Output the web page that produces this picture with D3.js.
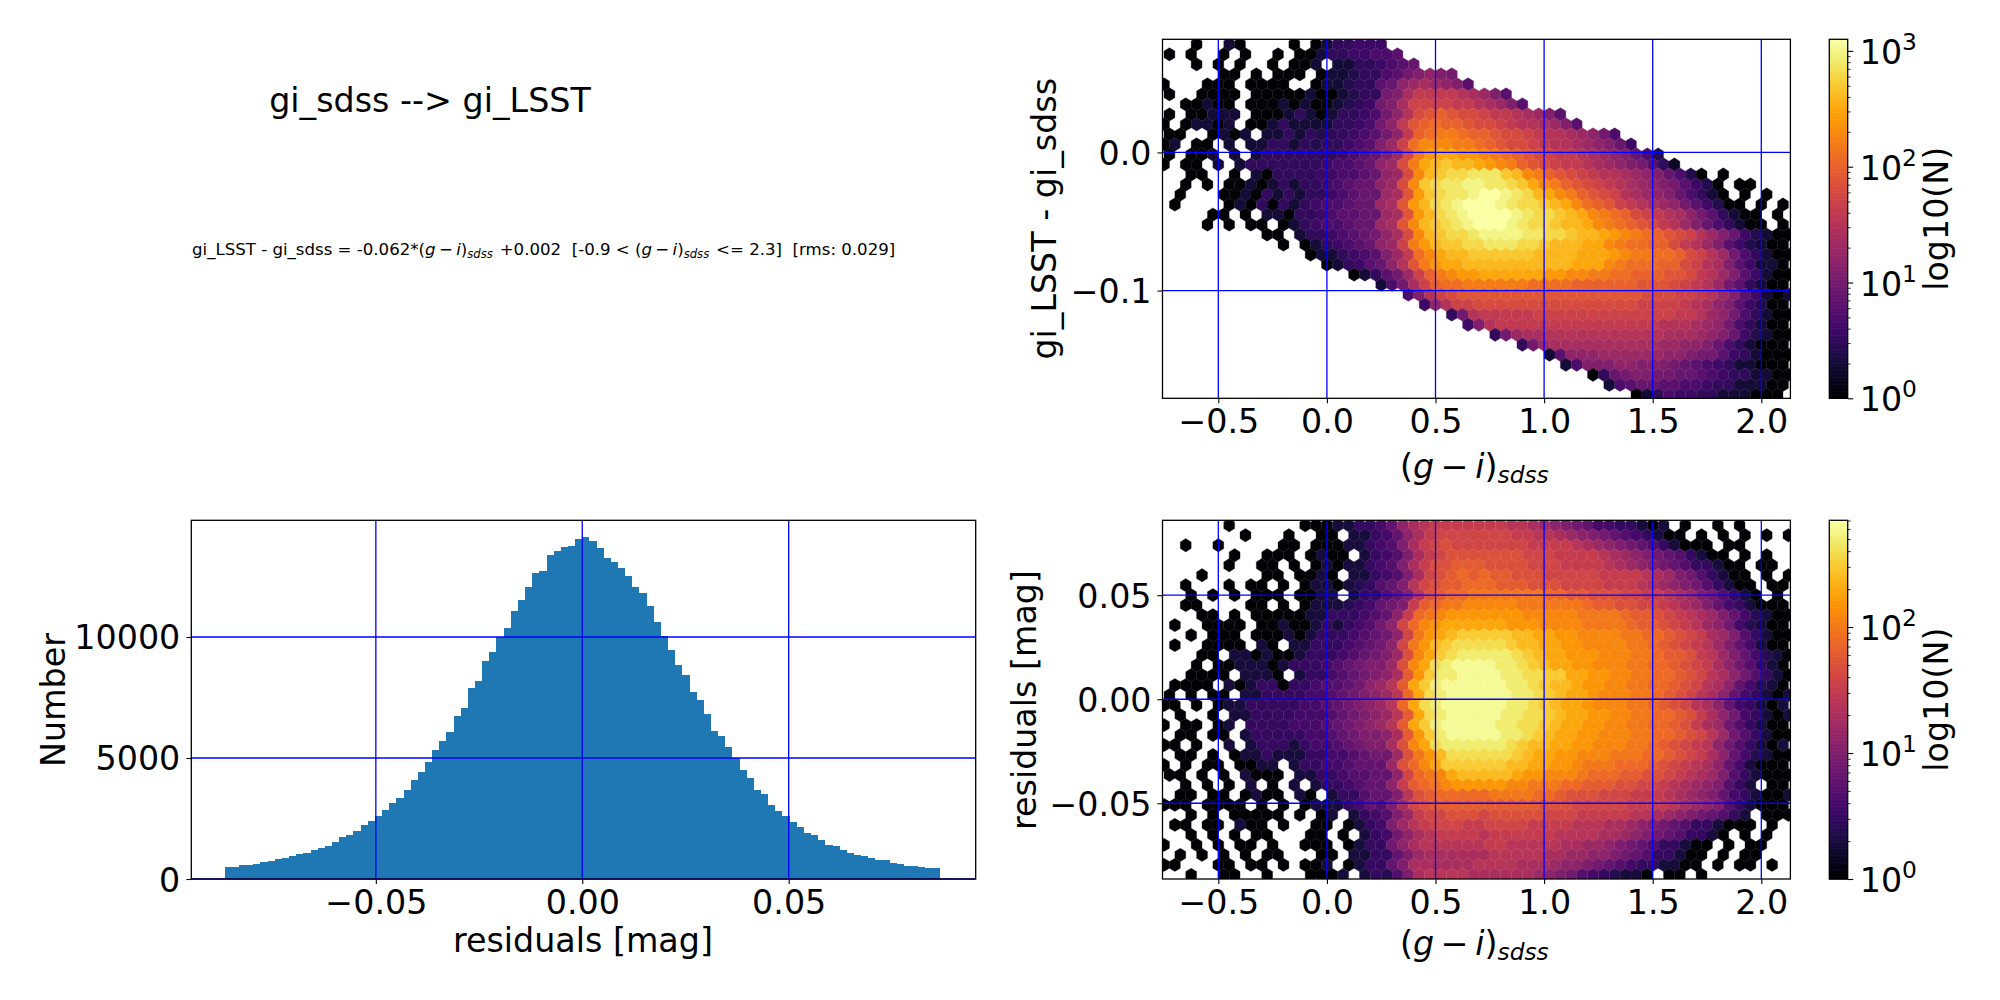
<!DOCTYPE html>
<html>
<head>
<meta charset="utf-8">
<script src="https://cdn.jsdelivr.net/npm/d3@7"></script>
<style>
  html, body { margin: 0; padding: 0; background: #fff; }
  text { font-family: "DejaVu Sans", sans-serif; fill: #000; white-space: pre; }
  .domain { display: none; }
</style>
</head>
<body>
<svg id="fig" width="2000" height="1000"></svg>
<script>
// residual histogram, 100 bins
var histStart = -0.0866, histWidth = 0.001732;
var histCounts = [
  496,496,578,578,620,702,744,826,868,950,
  1033,1074,1198,1281,1363,1528,1735,1818,1983,2231,
  2396,2603,2850,3140,3346,3677,4090,4420,4833,5329,
  5701,6073,6734,7064,7890,8180,9006,9377,9983,10369,
  11071,11525,12063,12641,12723,13384,13550,13715,13756,14045,
  14128,13963,13674,13261,13095,12847,12517,12063,11815,11278,
  10617,10038,9460,8840,8427,7725,7395,6816,6114,5907,
  5453,4985,4503,4172,3677,3511,3057,2809,2603,2355,
  2148,1900,1818,1611,1405,1363,1198,1074,991,950,
  868,785,785,661,620,537,537,496,454,454
];

// hexbin tables: one char per cell, base 32, log10(N) in tenths, "." = empty
var hexStartX = -0.75, hexStepX = 0.05;

var colourRows = [
  "...0..30.. ..0.035566 6",
  "0.0..0.0.. 0.00355667 78",
  "...0.0.0.. 0.003.3355 6789",
  ".....00.0. 000.033455 78abcba",
  "0...000.00 00..033455 89cdedcb8",
  "0..0000.00 0003003455 abeggggfedb8",
  "..00300.00 0303003456 abehhhhggfedb8",
  "0.00333.00 0353035567 acfijkjiihggfedb8",
  "0.03303.00 3533335567 acgjklkkjiihgffedb8",
  "00..0303.3 3535455678 acgklmmlkkjiihgffedca7",
  "03.00.3.33 5535455678 bdhlnnnmmlkjiihgffedcb96",
  "0.003.3.35 5555556789 bdimoppoonmlkjihggfedcb974",
  "0.00.3.355 5555567789 cdimpqrqqponmkjihggfedcba852",
  "..00..0.30 5555667789 cdinqrsstttrqnmkjihgffedcb9740.0",
  "..0.0.0030 3535567899 cdinrsttuuttsrpnmkjihgfedcba8640.00",
  ".0...00305 3535567899 dejorsttuvvutsqpnmkjihfedcb97530.0.0",
  ".0....0305 0535677899 dejoqstuvvvutssrqpnlkjhgfedca86400.0.0",
  "....00.0.3 3055678899 dejoqstuvvvvutssrqpnmlkihgfeca85300.0",
  "....0.0.00 .035677899 dejnqrstuvvvutssrqqpnmlkjigfdb975300.0",
  ".........0 0.3556789a ceinqrsstuuuuttssrqqponmlkjihfdb9643000",
  ".......... .0.0356789 cdhmoqrrsstttssrqqqppnmllkkigfdb864300",
  ".......... ...0335678 bdglnpqqrrrrrrqqqqpppon mmllkihfda75300",
  ".......... .....03568 9cfjmoppqq qqqqqqqqpp pnmlllkkih feb86330",
  ".......... .......035 8adhkmnoop pppppoonnm mllkkkjjig fdb86300",
  ".......... .......... 37aehkllmm mmmmllllkk kkkkjjjihg fda85300",
  ".......... .......... ..7bfhijjj jjjjjjjjjj jjjjiiihhg fdb86303",
  ".......... .......... ....6cfhhi iiiiiiiiii iiiihhhhgf ecb86400",
  ".......... .......... ......5afg gggghhhhhh hhhhhhhggf dca75300",
  ".......... .......... ........6b fggggggggg ggggggfffe dca75300",
  ".......... .......... .......... 5adeefffff ffffffeeed cb964300",
  ".......... .......... .......... ...5adeeee eeeeeeddcc b9753000",
  ".......... .......... .......... .....38ccc ddddddccba a8653000",
  ".......... .......... .......... .......37b bbccbbba98 76533000",
  ".......... .......... .......... .........0 59abbaa998 76553300",
  ".......... .......... .......... .......... .378998877 65533300",
  ".......... .......... .......... .......... ...0357665 5333000."
];

var residualRows = [
  "......0... ...0003355 68bdefffff ffeedcba98 6655303.0. .0.0....",
  ".......0.. .0..00.335 68bdfggggg ggffeedcba 98765300.0 .0.0.0.0",
  "..0..0.... .00.000335 67adfghggg ggggffffed cba9875300 0.00....",
  "......0..0 00.0300.35 67adfghhhh hhhgggffff edcba98753 00.0.0..",
  "......0..0 0.0.030335 67adfhhiii hhhhgggfff fedcba9875 5300.00.",
  "...0.....0 0.0030.335 67adghijij iihhhggggg ffffedca97 5300.0.0",
  "..0...0.00 .0.0330345 78aeghiijj jiiihhhggg gfffedcba9 75300.00",
  "..0.0.0.00 0.0033.355 78aehijjkk kkkkkjjiih hhggffedca 97530.0.",
  "..00....00 .0.0333456 89afijkkll lllkkkkkkj iihhggfedc a8653000",
  "...00.0.00 0003355567 8bfjklmmmm mmmlllllkk kkjiihgfed ca864300",
  ".0..0000.0 0300353567 9bgjlmnnnn nnmmmllllk kkkjiihgfe cb964300",
  "..0.000.00 0303555678 9bgkmnoppp ppoonnmmll llkkjjihgf dca75300",
  ".0..0000.3 0.33555678 9bgkmopqqq qqpoonnmml lllkkjihgf eca86300",
  "...00.3303 0035556789 achlnpqrrr rrqponnmmm lllkkjiihf eca86430",
  "...0.00333 035556789a achlnqrsss srrqponnmm lllkkjjihg fdb97530",
  "..0000.333 0.3556789a bdimprrsss srrqqppnnm mllkkjjihg edb97530",
  ".0000.3035 505567789b ceinprssss ssrrqpoonm mllkkjjihg edb86430",
  "0.0.00.335 55566789ab cejnqrssss ssrrqponnm lllkkjihge db865303",
  "00.0.03355 55566789ab cejnqrssss ssrrqponnm lllkkjihge db865303",
  ".0..0.3355 55666789ab ceinqrssss srrqqponnm mllkkjjihf db965303",
  "0.00.03.55 556667 89ab ceinprssss srrqqponnm mllkkjjihf dc975300",
  ".00.00.355 5556678 9aa bdimprssss srrqponnmm lllkkjjihg ec975300",
  "00.0..3.35 5535667 89a adhlnqrrrr rrqpoonnmm lllkkjihgf eb975303",
  ".00.0.0335 3335566789 9chkmoqqqq qqponnmmll lkkkjjihgf db864300",
  "0.0.00.003 3.35566788 8chjlnpppp ppoonnmmlk kkjjjihgfe db863000",
  "00.0.0.300 0.33556778 8bgjklnooo oonmmlllkj jjiihhgfed ca753000",
  "..0.0.0.3. 0.3.355678 8bfijklmmm mmllkkkjji iihhggfedc ba753.00",
  ".00.00.030 0.30.35578 8aehijjjjj kkkkjjihhh gggfffedcb a8653003",
  "000.0000.0 .0.0333568 7adghiiiii iiiiihhhgg gggffffedc ba753000",
  "..0.0.0000 0.0.03.356 7acfgghhhg hhhhhgggff fffeedcba9 8753.000",
  ".00.00.300 .0..00.035 6acefgggff ggggffffee eddcba9875 53000.0.",
  "..0.0.0.00 ...00.0.35 69bdeffffe ffffffeeee ddcba98755 30.0.0..",
  "0..0.0.00. 0..000.035 59bdeeeeee ffeeeeeddc cba9875530 0.0.00..",
  ".0.0.0.0.0 0...00.335 58acdddddd eeeeeddccb ba98755300 .0.00...",
  "00...00.00 .0.003.035 58adddddde eeedddcbba 9876553300 .0.00.0.",
  "..0..00..0 ...0003.35 47adeeeedd ddddcba976 54330.00.0 ........"
];

// axis ticks
var colourTicks = [-0.5, 0, 0.5, 1, 1.5, 2];
var topYTicks = [0, -0.1];
var residYTicks = [0.05, 0, -0.05];
var histXTicks = [-0.05, 0, 0.05];
var histYTicks = [0, 5000, 10000];

var title = "gi_sdss --> gi_LSST";
var fontPx = 33.3;
var svg = d3.select("#fig");
var uid = 0;

function minusFmt(digits) {
  return function (d) { return d3.format("." + digits + "f")(d).replace("-", "\u2212"); };
}

// writes (g - i)_sdss as tspans
function colourTerm(t) {
  t.append("tspan").text("(");
  t.append("tspan").attr("font-style", "italic").text("g");
  t.append("tspan").text("\u2009\u2212\u2009");
  t.append("tspan").attr("font-style", "italic").text("i");
  t.append("tspan").text(")");
  t.append("tspan").attr("font-style", "italic").attr("font-size", "0.7em").attr("dy", "0.22em").text("sdss");
  t.append("tspan").attr("dy", "-0.154em").text("\u200a");
}

// frame with blue grid, shared by the three axes
function makeAxes(o) {
  var x = d3.scaleLinear().domain(o.xDomain).range([o.left, o.right]);
  var y = d3.scaleLinear().domain(o.yDomain).range([o.bottom, o.top]);
  var id = "clip" + (uid++);
  svg.append("clipPath").attr("id", id).append("rect")
    .attr("x", o.left).attr("y", o.top).attr("width", o.right - o.left).attr("height", o.bottom - o.top);
  var g = svg.append("g");
  var marks = g.append("g").attr("clip-path", "url(#" + id + ")");
  return { x: x, y: y, g: g, marks: marks, o: o };
}

function finishAxes(a) {
  var o = a.o, g = a.g;
  var grid = g.append("g").attr("stroke", "#0000ff").attr("stroke-width", 1.3);
  grid.selectAll(".vx").data(o.xTicks).enter().append("line")
    .attr("x1", a.x).attr("x2", a.x).attr("y1", o.top).attr("y2", o.bottom);
  grid.selectAll(".hz").data(o.yTicks).enter().append("line")
    .attr("y1", a.y).attr("y2", a.y).attr("x1", o.left).attr("x2", o.right);

  g.append("rect").attr("x", o.left).attr("y", o.top)
    .attr("width", o.right - o.left).attr("height", o.bottom - o.top)
    .attr("fill", "none").attr("stroke", "#000").attr("stroke-width", 1.3);

  var xa = g.append("g").attr("transform", "translate(0," + o.bottom + ")")
    .call(d3.axisBottom(a.x).tickValues(o.xTicks).tickSize(5).tickFormat(o.xFmt));
  xa.selectAll("text").attr("font-size", fontPx).attr("y", 35).attr("dy", 0)
    .style("font-family", "'DejaVu Sans'");
  xa.selectAll("line").attr("stroke-width", 1.1);

  var ya = g.append("g").attr("transform", "translate(" + o.left + ",0)")
    .call(d3.axisLeft(a.y).tickValues(o.yTicks).tickSize(5).tickFormat(o.yFmt));
  ya.selectAll("text").attr("font-size", fontPx).attr("x", -11).attr("dy", "0.36em")
    .style("font-family", "'DejaVu Sans'");
  ya.selectAll("line").attr("stroke-width", 1.1);
}

function hexPath(a, cx, cy, sx, sy) {
  var hw = sx / 2, tip = sy * 2 / 3, side = sy / 3;
  var pts = [[cx, cy + tip], [cx + hw, cy + side], [cx + hw, cy - side], [cx, cy - tip], [cx - hw, cy - side], [cx - hw, cy + side]];
  return "M" + pts.map(function (p) { return a.x(p[0]) + "," + a.y(p[1]); }).join("L") + "Z";
}

function drawHex(a, rows, stepY, maxN) {
  var colour = d3.scaleSequentialLog(d3.interpolateInferno).domain([1, maxN]);
  var cells = [];
  rows.forEach(function (row, r) {
    row.replace(/ /g, "").split("").forEach(function (ch, c) {
      if (ch === ".") return;
      cells.push({
        x: hexStartX + (c + (r % 2) / 2) * hexStepX,
        y: a.o.yDomain[1] - (r + 0.5) * stepY,
        n: Math.pow(10, parseInt(ch, 32) / 10)
      });
    });
  });
  a.marks.selectAll("path").data(cells).enter().append("path")
    .attr("d", function (d) { return hexPath(a, d.x, d.y, hexStepX, stepY); })
    .attr("fill", function (d) { return colour(d.n); })
    .attr("stroke", function (d) { return colour(d.n); })
    .attr("stroke-width", 0.3);
  return colour;
}

function drawColorbar(o) {
  var s = d3.scaleLog().domain([1, o.maxN]).range([o.bottom, o.top]);
  var g = svg.append("g");
  var h = o.bottom - o.top;
  var stops = d3.range(0, 1, 1 / 256);
  g.selectAll(".st").data(stops).enter().append("rect")
    .attr("x", o.left).attr("width", o.right - o.left)
    .attr("y", function (d) { return o.bottom - (d + 1 / 256) * h; })
    .attr("height", h / 256 + 0.6)
    .attr("fill", function (d) { return d3.interpolateInferno(d); });
  g.append("rect").attr("x", o.left).attr("y", o.top)
    .attr("width", o.right - o.left).attr("height", h)
    .attr("fill", "none").attr("stroke", "#000").attr("stroke-width", 1.3);

  var minor = [];
  [1, 10, 100].forEach(function (dec) {
    d3.range(2, 10).forEach(function (m) { if (m * dec < o.maxN) minor.push(m * dec); });
  });
  var mg = g.append("g").attr("transform", "translate(" + o.right + ",0)")
    .call(d3.axisRight(s).tickValues(minor).tickSize(3).tickFormat(""));
  mg.selectAll("line").attr("stroke-width", 0.8);

  var ag = g.append("g").attr("transform", "translate(" + o.right + ",0)")
    .call(d3.axisRight(s).tickValues(o.major).tickSize(5.5).tickFormat(""));
  ag.selectAll("line").attr("stroke-width", 1.1);
  ag.selectAll("text").attr("x", 12).attr("dy", "0.38em").attr("font-size", fontPx)
    .style("font-family", "'DejaVu Sans'")
    .each(function (d) {
      var t = d3.select(this);
      t.append("tspan").text("10");
      t.append("tspan").attr("font-size", "0.7em").attr("dy", "-0.6em").text(Math.round(Math.log10(d)));
    });

  g.append("text").attr("font-size", fontPx).attr("text-anchor", "middle")
    .attr("transform", "translate(" + o.labelX + "," + ((o.top + o.bottom) / 2) + ") rotate(-90)")
    .text("log10(N)");
}

// top left: title and fit text
svg.append("text").attr("x", 430).attr("y", 112).attr("text-anchor", "middle").attr("font-size", fontPx).text(title);
var eq = svg.append("text").attr("x", 192).attr("y", 255).attr("font-size", 16.6);
eq.append("tspan").text("gi_LSST - gi_sdss = -0.062*");
colourTerm(eq);
eq.append("tspan").text(" +0.002  [-0.9 < ");
colourTerm(eq);
eq.append("tspan").text(" <= 2.3]  [rms: 0.029]");

// top right
var axTop = makeAxes({
  left: 1162.5, right: 1790.4, top: 39.3, bottom: 398.3,
  xDomain: [-0.757, 2.134], yDomain: [-0.178, 0.0819],
  xTicks: colourTicks, yTicks: topYTicks, xFmt: minusFmt(1), yFmt: minusFmt(1)
});
drawHex(axTop, colourRows, 0.00725, 1259);
finishAxes(axTop);
var xl1 = svg.append("text").attr("x", 1476).attr("y", 478).attr("text-anchor", "middle").attr("font-size", fontPx);
colourTerm(xl1);
svg.append("text").attr("font-size", fontPx).attr("text-anchor", "middle")
  .attr("transform", "translate(1056,218.8) rotate(-90)").text("gi_LSST - gi_sdss");
drawColorbar({ left: 1829.3, right: 1847.7, top: 39.3, bottom: 398.3, maxN: 1259, major: [1, 10, 100, 1000], labelX: 1948 });

// bottom right
var axRes = makeAxes({
  left: 1162.5, right: 1790.4, top: 520.3, bottom: 879,
  xDomain: [-0.757, 2.134], yDomain: [-0.0864, 0.086],
  xTicks: colourTicks, yTicks: residYTicks, xFmt: minusFmt(1), yFmt: minusFmt(2)
});
drawHex(axRes, residualRows, 0.0048, 703);
finishAxes(axRes);
var xl2 = svg.append("text").attr("x", 1476).attr("y", 955).attr("text-anchor", "middle").attr("font-size", fontPx);
colourTerm(xl2);
svg.append("text").attr("font-size", fontPx).attr("text-anchor", "middle")
  .attr("transform", "translate(1036,700) rotate(-90)").text("residuals [mag]");
drawColorbar({ left: 1829.3, right: 1847.7, top: 520.3, bottom: 879, maxN: 703, major: [1, 10, 100], labelX: 1948 });

// bottom left histogram
var axHist = makeAxes({
  left: 191.3, right: 975.7, top: 520.3, bottom: 879,
  xDomain: [-0.0947, 0.0953], yDomain: [0, 14822],
  xTicks: histXTicks, yTicks: histYTicks, xFmt: minusFmt(2), yFmt: d3.format("d")
});
axHist.marks.selectAll("rect").data(histCounts).enter().append("rect")
  .attr("x", function (d, i) { return axHist.x(histStart + i * histWidth); })
  .attr("width", function (d, i) { return axHist.x(histStart + (i + 1) * histWidth) - axHist.x(histStart + i * histWidth); })
  .attr("y", function (d) { return axHist.y(d); })
  .attr("height", function (d) { return axHist.y(0) - axHist.y(d); })
  .attr("fill", "#1f77b4")
  .attr("shape-rendering", "crispEdges");
finishAxes(axHist);
svg.append("text").attr("x", 583).attr("y", 952).attr("text-anchor", "middle").attr("font-size", fontPx).text("residuals [mag]");
svg.append("text").attr("font-size", fontPx).attr("text-anchor", "middle")
  .attr("transform", "translate(65,700) rotate(-90)").text("Number");
</script>
</body>
</html>
